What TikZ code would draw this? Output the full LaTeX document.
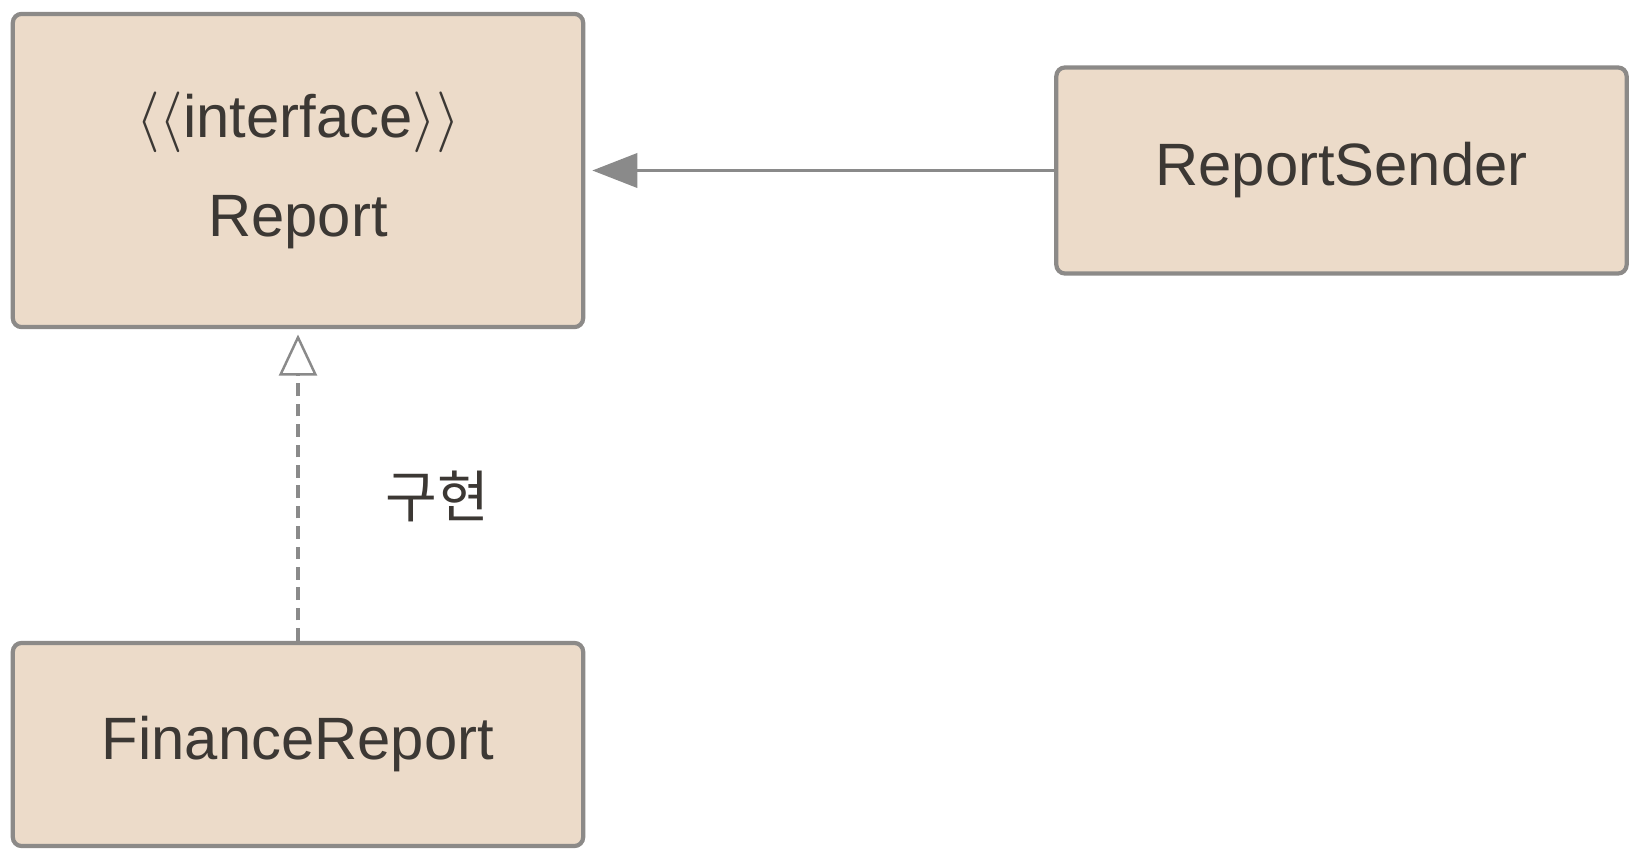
\documentclass[tikz,border=0pt]{standalone}
\usepackage{fontspec}
\setmainfont{Liberation Sans}
\newfontfamily\krfont{Noto Sans CJK KR}
\usetikzlibrary{arrows.meta}

\definecolor{boxFill}{RGB}{236,219,201}
\definecolor{boxLine}{RGB}{140,138,136}
\definecolor{relLine}{RGB}{138,138,138}
\definecolor{textGray}{RGB}{60,56,52}

\tikzset{
	classbox/.style={draw=boxLine, fill=boxFill, line width=1.2pt, rounded corners=2.5pt,
		minimum width=5.7cm, inner sep=0pt, text=textGray, font=\fontsize{17}{28}\selectfont, align=center},
	assoc/.style={draw=relLine, line width=1pt, -{Triangle[length=12.8pt, width=9.7pt]}, shorten >=2pt},
	realize/.style={draw=relLine, line width=1pt, dash pattern=on 3.6pt off 2.2pt,
		-{Triangle[open, length=11.7pt, width=10.8pt, line width=0.7pt, fill=white]}, shorten >=1.5pt},
	relLabel/.style={text=textGray, font=\krfont\fontsize{16}{18}\selectfont}
}

\begin{document}
\begin{tikzpicture}[x=0.01cm,y=-0.01cm]
	\useasboundingbox (0,0) rectangle (1638,864);

	% draw classes
	\node[classbox, minimum height=3.13cm] (report) at (298,170.5)
		{$\langle\langle$interface$\rangle\rangle$\\Report};
	\node[classbox, minimum height=2.06cm] (sender) at (1341.5,170.5) {ReportSender};
	\node[classbox, minimum height=2.03cm] (finance) at (298,744.5) {FinanceReport};

	% draw relations
	\draw[assoc] (sender) -- (report);
	\draw[realize] (finance) -- (report);
	\node[relLabel] (impl) at (437,496) {구현};
\end{tikzpicture}
\end{document}
